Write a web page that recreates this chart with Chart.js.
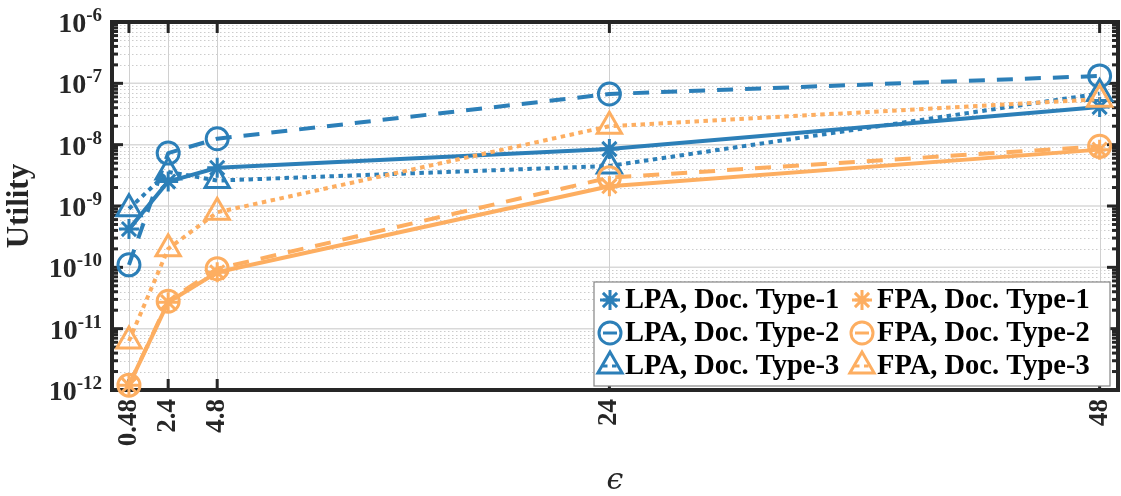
<!DOCTYPE html>
<html><head><meta charset="utf-8">
<script src="https://cdn.jsdelivr.net/npm/chart.js@4.4.0/dist/chart.umd.min.js"></script>
<style>html,body{margin:0;padding:0;background:#fff;}#wrap{width:1121px;height:496px;position:relative;}</style>
</head><body><div id="wrap"><canvas id="c" width="1121" height="496"></canvas></div>
<script>
// ---- data ----
const epsValues = [0.48, 2.4, 4.8, 24, 48];
const xTickLabels = ['0.48', '2.4', '4.8', '24', '48'];
const yDecades = [-12, -11, -10, -9, -8, -7, -6];
const lpaType1 = [4.2e-10, 2.5e-9, 4.2e-9, 8.5e-9, 4.1e-8];
const lpaType2 = [1.1e-10, 7.3e-9, 1.25e-8, 6.7e-8, 1.32e-7];
const lpaType3 = [9.0e-10, 3.6e-9, 2.6e-9, 4.5e-9, 6.8e-8];
const fpaType1 = [1.2e-12, 2.7e-11, 8.3e-11, 2.1e-9, 8.3e-9];
const fpaType2 = [1.2e-12, 2.8e-11, 9.5e-11, 2.9e-9, 9.4e-9];
const fpaType3 = [6.3e-12, 2.0e-10, 7.9e-10, 2.0e-8, 5.5e-8];
const seriesNames = ['LPA, Doc. Type-1', 'LPA, Doc. Type-2', 'LPA, Doc. Type-3',
                     'FPA, Doc. Type-1', 'FPA, Doc. Type-2', 'FPA, Doc. Type-3'];
const xTitle = 'ϵ';
const yTitle = 'Utility';

// ---- styles ----
const BLUE = '#2c7fb8', ORANGE = '#fdae61', INK = '#262626';
const FONT = "'Liberation Serif', 'Times New Roman', serif";
const DASH = [16, 12], DOT = [4.5, 4.5], SOLID = [];

function ds(label, vals, color, dash, style, radius, order) {
  return {
    label, data: epsValues.map((x, i) => ({x, y: vals[i]})),
    borderColor: color, backgroundColor: color, borderWidth: 4, borderDash: dash,
    borderCapStyle: 'butt', borderJoinStyle: 'round',
    pointStyle: style, pointRadius: radius, pointHoverRadius: radius, pointBorderWidth: 3,
    pointBackgroundColor: 'rgba(0,0,0,0)', pointBorderColor: color,
    showLine: true, tension: 0, clip: false, order
  };
}
const datasets = [
  ds(seriesNames[0], lpaType1, BLUE, SOLID, 'star', 10, 1),
  ds(seriesNames[1], lpaType2, BLUE, DASH, 'circle', 11, 1),
  ds(seriesNames[2], lpaType3, BLUE, DOT, 'triangle', 14, 1),
  ds(seriesNames[3], fpaType1, ORANGE, SOLID, 'star', 10, 0),
  ds(seriesNames[4], fpaType2, ORANGE, DASH, 'circle', 11, 0),
  ds(seriesNames[5], fpaType3, ORANGE, DOT, 'triangle', 14, 0)
];

function line(ctx, x1, y1, x2, y2) { ctx.beginPath(); ctx.moveTo(x1, y1); ctx.lineTo(x2, y2); ctx.stroke(); }

const framePlugin = {
  id: 'frame',
  beforeDraw(chart) {
    const ctx = chart.ctx; ctx.save(); ctx.fillStyle = '#fff';
    ctx.fillRect(0, 0, chart.width, chart.height); ctx.restore();
  },
  beforeDatasetsDraw(chart) {
    const {ctx, chartArea: a, scales: {x, y}} = chart;
    ctx.save();
    // minor y grid (dotted)
    ctx.lineWidth = 1; ctx.strokeStyle = '#cccccc'; ctx.setLineDash([1.5, 2.5]);
    for (let d = yDecades[0]; d < yDecades[yDecades.length - 1]; d++) {
      for (let m = 2; m <= 9; m++) {
        const py = Math.round(y.getPixelForValue(m * Math.pow(10, d))) + 0.5;
        line(ctx, a.left, py, a.right, py);
      }
    }
    ctx.setLineDash([]);
    // major y grid
    ctx.strokeStyle = '#d9d9d9'; ctx.lineWidth = 1.5;
    yDecades.forEach(d => { const py = y.getPixelForValue(Math.pow(10, d)); line(ctx, a.left, py, a.right, py); });
    // x grid
    ctx.lineWidth = 1; ctx.strokeStyle = '#d0d0d0';
    epsValues.forEach(v => { const px = Math.round(x.getPixelForValue(v)) + 0.5; line(ctx, px, a.top, px, a.bottom); });
    // ticks (inward) - x
    ctx.strokeStyle = INK; ctx.lineWidth = 3;
    epsValues.forEach(v => {
      const px = x.getPixelForValue(v);
      line(ctx, px, a.bottom, px, a.bottom - 11);
      line(ctx, px, a.top, px, a.top + 11);
    });
    // ticks - y
    for (let d = yDecades[0]; d <= yDecades[yDecades.length - 1]; d++) {
      for (let m = 1; m <= 9; m++) {
        if (d === yDecades[yDecades.length - 1] && m > 1) break;
        const py = y.getPixelForValue(m * Math.pow(10, d));
        const len = m === 1 ? 11 : 6;
        line(ctx, a.left, py, a.left + len, py);
        line(ctx, a.right, py, a.right - len, py);
      }
    }
    // box
    ctx.lineWidth = 4; ctx.strokeStyle = INK;
    ctx.strokeRect(a.left, a.top, a.right - a.left, a.bottom - a.top);
    ctx.restore();
  },
  afterDraw(chart) {
    const {ctx, chartArea: a, scales: {y}} = chart;
    ctx.save();
    // y tick labels 10^k
    ctx.fillStyle = INK; ctx.textBaseline = 'alphabetic';
    const xEnd = a.left - 10;
    yDecades.forEach(d => {
      const py = y.getPixelForValue(Math.pow(10, d));
      const exp = String(d);
      ctx.font = `bold 19px ${FONT}`;
      const ew = ctx.measureText(exp).width;
      ctx.textAlign = 'left';
      ctx.fillText(exp, xEnd - ew, py - 1);
      ctx.font = `bold 28px ${FONT}`;
      ctx.textAlign = 'right';
      ctx.fillText('10', xEnd - ew, py + 10);
    });
    // legend
    const bx = a.left + 482, by = a.bottom - 108, bw = a.right - 8 - bx, bh = 104;
    ctx.fillStyle = '#fff'; ctx.fillRect(bx, by, bw, bh);
    ctx.strokeStyle = '#858585'; ctx.lineWidth = 1.2; ctx.strokeRect(bx, by, bw, bh);
    const colX = [bx + 16, bx + 268];
    const rowY = [by + 18, by + 51, by + 84];
    ctx.font = `bold 28.5px ${FONT}`; ctx.textBaseline = 'middle'; ctx.textAlign = 'left';
    datasets.forEach((dsi, i) => {
      const col = i < 3 ? 0 : 1, row = i % 3;
      const mx = colX[col], my = rowY[row];
      ctx.strokeStyle = dsi.borderColor; ctx.lineWidth = 3;
      ctx.setLineDash(dsi.borderDash);
      line(ctx, mx - 7, my, mx + 7, my);
      ctx.setLineDash([]);
      ctx.fillStyle = 'rgba(0,0,0,0)';
      ctx.lineWidth = 3;
      Chart.helpers.drawPoint(ctx, {pointStyle: dsi.pointStyle, radius: dsi.pointRadius, borderWidth: 3, rotation: 0}, mx, my);
      ctx.fillStyle = '#000';
      ctx.fillText(dsi.label, mx + 15, my + 1);
    });
    ctx.restore();
  }
};

new Chart(document.getElementById('c'), {
  type: 'scatter',
  data: {datasets},
  options: {
    responsive: false, animation: false, events: [],
    layout: {autoPadding: false, padding: {left: 0, right: 3, top: 22, bottom: 0}},
    plugins: {legend: {display: false}, tooltip: {enabled: false}},
    scales: {
      x: {
        type: 'linear', min: -0.35, max: 48.9,
        afterBuildTicks: s => { s.ticks = epsValues.map(v => ({value: v})); },
        afterFit: s => { s.height = 106; s.paddingLeft = 0; s.paddingRight = 0; },
        grid: {display: false, drawTicks: false}, border: {display: false},
        ticks: {autoSkip: false, minRotation: 90, maxRotation: 90, padding: 9, color: INK,
                font: {family: FONT, size: 27, weight: 'bold'},
                callback: (v, i) => xTickLabels[i]},
        title: {display: true, text: xTitle, color: INK, padding: {top: 0, bottom: 0},
                font: {family: "'DejaVu Serif', serif", size: 30, style: 'italic', lineHeight: 1}}
      },
      y: {
        type: 'logarithmic', min: 1e-12, max: 1e-6,
        afterBuildTicks: s => { s.ticks = yDecades.map(d => ({value: Math.pow(10, d), major: true})); },
        afterFit: s => { s.width = 112; s.paddingTop = 0; s.paddingBottom = 0; },
        grid: {display: false, drawTicks: false}, border: {display: false},
        ticks: {display: false},
        title: {display: true, text: yTitle, color: INK, padding: {top: 4, bottom: 0},
                font: {family: FONT, size: 31, weight: 'bold', lineHeight: 1}}
      }
    }
  },
  plugins: [framePlugin]
});
</script></body></html>
